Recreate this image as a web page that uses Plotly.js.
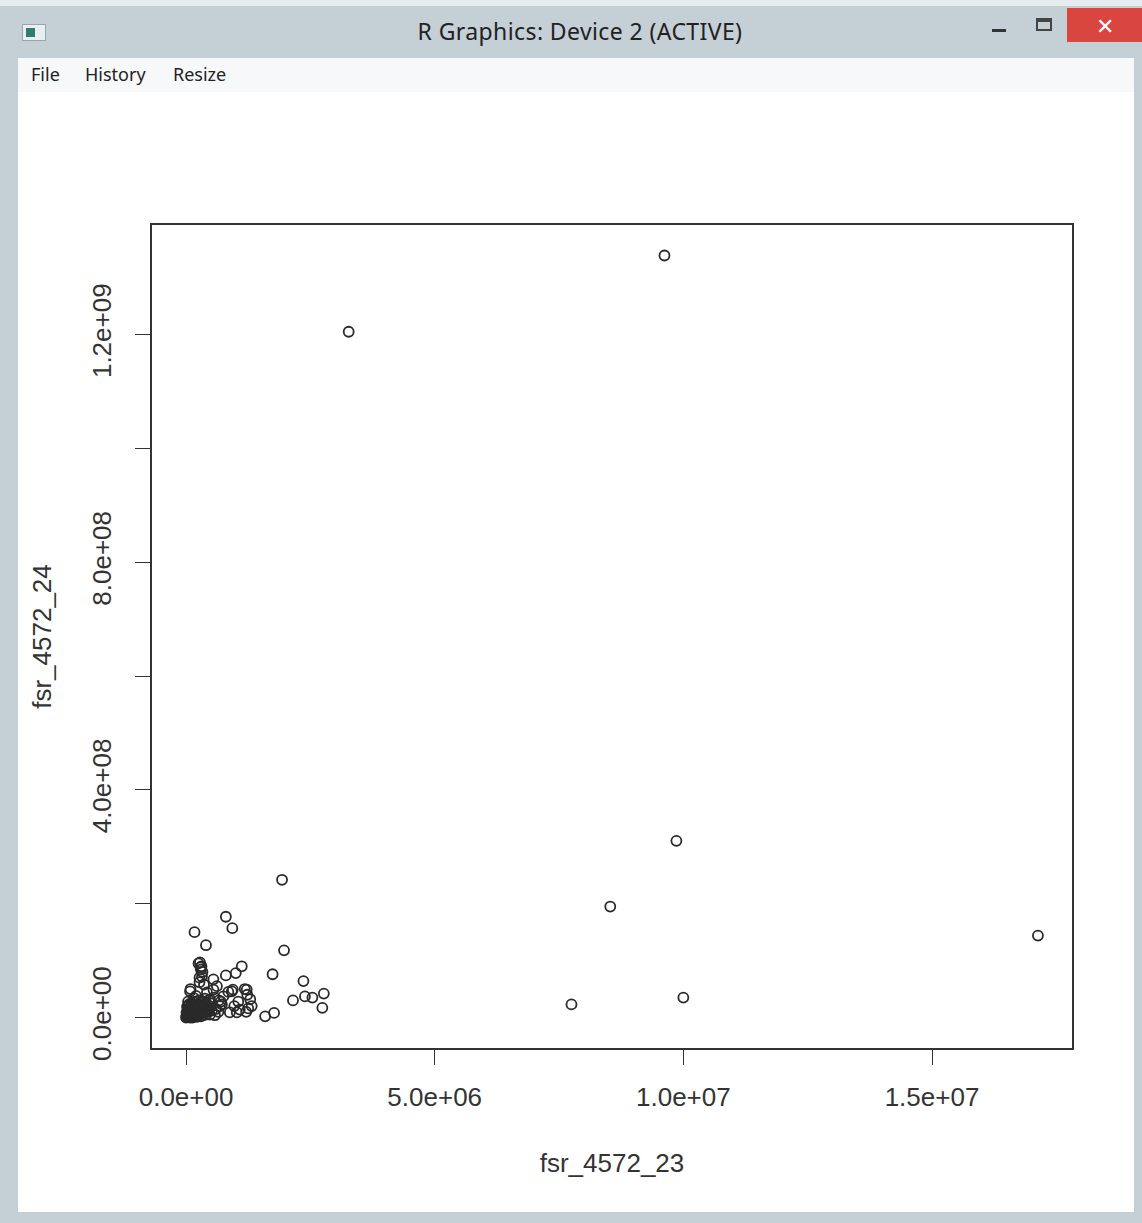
<!DOCTYPE html>
<html>
<head>
<meta charset="utf-8">
<script src="https://cdn.plot.ly/plotly-3.0.1.min.js"></script>
<style>
  html, body { margin:0; padding:0; width:1142px; height:1223px; overflow:hidden; background:#c5cfd6; font-family:"Noto Sans","Open Sans",sans-serif; }
  #topedge { position:absolute; left:0; top:0; width:1142px; height:6px; background:#e6ebee; }
  #icon { position:absolute; left:22px; top:24px; width:24px; height:17px; background:#e9eef0; border:1px solid #9aa6ad; box-sizing:border-box; }
  #icon div { position:absolute; left:3px; top:3px; width:9px; height:9px; background:#2e7d6e; }
  #title { position:absolute; left:0; width:1160px; top:15px; text-align:center; font-size:23px; letter-spacing:0.4px; color:#222; }
  #minbtn { position:absolute; left:992px; top:29px; width:14px; height:3px; background:#333; }
  #maxbtn { position:absolute; left:1036px; top:18px; width:16px; height:13px; border:2px solid #444; border-top-width:4px; box-sizing:border-box; }
  #closebtn { position:absolute; left:1067px; top:8px; width:75px; height:34px; background:#d9453f; color:#fff; font-size:22px; text-align:center; line-height:34px; }
  #menubar { position:absolute; left:18px; top:58px; width:1116px; height:34px; background:#f7f8f9; }
  .menu { position:absolute; top:62px; font-size:18px; color:#222; }
  #client { position:absolute; left:18px; top:92px; width:1116px; height:1120px; background:#fff; }
  #plot { position:absolute; left:0; top:0; width:1142px; height:1223px; }
</style>
</head>
<body>
<div id="topedge"></div>
<div id="icon"><div></div></div>
<div id="title">R Graphics: Device 2 (ACTIVE)</div>
<div id="minbtn"></div>
<div id="maxbtn"></div>
<div id="closebtn">&#x2715;</div>
<div id="menubar"></div>
<div class="menu" style="left:31px">File</div>
<div class="menu" style="left:85px">History</div>
<div class="menu" style="left:173px">Resize</div>
<div id="client"></div>
<div id="plot"></div>
<script>
// fsr_4572_23 values (x)
const fsr_4572_23 = [
  9.62e6, 3.27e6, 9.86e6, 1.93e6, 8.53e6, 17.13e6, 7.75e6, 10.0e6, 1.97e6,
  0.80e6, 0.93e6, 0.17e6, 0.40e6, 0.28e6, 0.31e6, 0.30e6, 0.33e6, 1.12e6, 1.00e6,
  0.80e6, 1.74e6, 0.55e6, 0.27e6, 0.09e6, 0.94e6, 1.18e6, 1.23e6, 2.36e6, 2.15e6,
  2.39e6, 2.54e6, 2.77e6, 2.74e6, 1.59e6, 1.77e6, 1.29e6, 1.32e6, 1.08e6, 0.88e6,
  0.68e6, 0.48e6, 0.75e6, 0.55e6, 1.21e6, 1.25e6, 1.05e6, 0.62e6, 0.70e6, 0.42e6,
  0.36e6, 0.20e6, 0.65e6, 0.97e6, 0.85e6, 0.58e6, 0.45e6, 0.08e6, 0.92e6, 1.22e6,
  0.72e6, 1.02e6,
  0.00e6, 0.02e6, 0.05e6, 0.08e6, 0.03e6, 0.10e6, 0.12e6, 0.07e6, 0.15e6, 0.18e6,
  0.04e6, 0.14e6, 0.20e6, 0.22e6, 0.25e6, 0.28e6, 0.09e6, 0.17e6, 0.30e6, 0.33e6,
  0.24e6, 0.36e6, 0.11e6, 0.30e6, 0.40e6, 0.42e6, 0.19e6, 0.26e6, 0.06e6, 0.13e6,
  0.01e6, 0.21e6, 0.35e6, 0.16e6, 0.38e6, 0.44e6, 0.50e6, 0.52e6, 0.05e6,
  0.01e6, 0.03e6, 0.06e6, 0.09e6, 0.11e6, 0.14e6, 0.16e6, 0.19e6, 0.23e6, 0.27e6,
  0.31e6, 0.34e6, 0.02e6, 0.07e6, 0.12e6, 0.18e6, 0.24e6, 0.29e6, 0.37e6, 0.46e6,
  0.04e6, 0.10e6, 0.15e6, 0.21e6, 0.32e6, 0.39e6, 0.60e6, 0.57e6, 0.66e6, 0.48e6,
  0.25e6, 0.29e6, 0.32e6, 0.27e6
];
// fsr_4572_24 values (y)
const fsr_4572_24 = [
  1.339e9, 1.205e9, 3.105e8, 2.42e8, 1.95e8, 1.44e8, 0.23e8, 0.35e8, 1.18e8,
  1.77e8, 1.57e8, 1.50e8, 1.27e8, 0.97e8, 0.90e8, 0.84e8, 0.80e8, 0.90e8, 0.78e8,
  0.74e8, 0.76e8, 0.67e8, 0.62e8, 0.50e8, 0.49e8, 0.50e8, 0.40e8, 0.64e8, 0.30e8,
  0.37e8, 0.35e8, 0.42e8, 0.17e8, 0.02e8, 0.08e8, 0.32e8, 0.20e8, 0.14e8, 0.09e8,
  0.20e8, 0.32e8, 0.37e8, 0.49e8, 0.10e8, 0.16e8, 0.28e8, 0.55e8, 0.28e8, 0.44e8,
  0.58e8, 0.38e8, 0.10e8, 0.20e8, 0.45e8, 0.04e8, 0.15e8, 0.46e8, 0.46e8, 0.49e8,
  0.23e8, 0.09e8,
  0.00e8, 0.01e8, 0.02e8, 0.00e8, 0.05e8, 0.03e8, 0.08e8, 0.10e8, 0.02e8, 0.05e8,
  0.14e8, 0.14e8, 0.10e8, 0.01e8, 0.06e8, 0.12e8, 0.18e8, 0.20e8, 0.02e8, 0.08e8,
  0.17e8, 0.15e8, 0.25e8, 0.22e8, 0.05e8, 0.20e8, 0.28e8, 0.30e8, 0.07e8, 0.00e8,
  0.09e8, 0.13e8, 0.27e8, 0.34e8, 0.33e8, 0.10e8, 0.25e8, 0.12e8, 0.22e8,
  0.04e8, 0.11e8, 0.16e8, 0.06e8, 0.19e8, 0.07e8, 0.11e8, 0.03e8, 0.09e8, 0.21e8,
  0.13e8, 0.04e8, 0.19e8, 0.24e8, 0.03e8, 0.15e8, 0.08e8, 0.26e8, 0.10e8, 0.30e8,
  0.28e8, 0.15e8, 0.27e8, 0.06e8, 0.18e8, 0.24e8, 0.15e8, 0.35e8, 0.30e8, 0.05e8,
  0.95e8, 0.88e8, 0.72e8, 0.70e8
];
const xTickVals = [0, 5e6, 1e7, 1.5e7];
const xTickText = ["0.0e+00", "5.0e+06", "1.0e+07", "1.5e+07"];
const yTickVals = [0, 2e8, 4e8, 6e8, 8e8, 1e9, 1.2e9];
const yTickText = ["0.0e+00", "", "4.0e+08", "", "8.0e+08", "", "1.2e+09"];

const tickFont = { family: "Liberation Sans, Arial, sans-serif", size: 26, color: "#333" };
const axisCommon = {
  showgrid: false, zeroline: false, showline: true, mirror: true,
  linecolor: "#333", linewidth: 1.6,
  ticks: "outside", ticklen: 15, tickwidth: 1.4, tickcolor: "#333",
  tickfont: tickFont, tickmode: "array", fixedrange: true
};

Plotly.newPlot("plot", [{
  type: "scatter", mode: "markers",
  x: fsr_4572_23, y: fsr_4572_24,
  marker: { symbol: "circle-open", size: 10, color: "#2a2a2a", line: { width: 1.8, color: "#2a2a2a" } },
  hoverinfo: "x+y"
}], {
  width: 1142, height: 1223,
  margin: { l: 152, r: 70, t: 225, b: 175 },
  paper_bgcolor: "rgba(0,0,0,0)", plot_bgcolor: "#fff",
  showlegend: false,
  xaxis: Object.assign({}, axisCommon, {
    range: [-685000, 17815000], tickvals: xTickVals, ticktext: xTickText,
    ticklabelstandoff: 10,
    title: { text: "fsr_4572_23", font: tickFont, standoff: 43 }
  }),
  yaxis: Object.assign({}, axisCommon, {
    range: [-5.36e7, 1.3926e9], tickvals: yTickVals, ticktext: yTickText,
    tickangle: -90, ticklabelstandoff: 14,
    title: { text: "fsr_4572_24", font: tickFont, standoff: 28 }
  })
}, { displayModeBar: false, staticPlot: false });
</script>
</body>
</html>
